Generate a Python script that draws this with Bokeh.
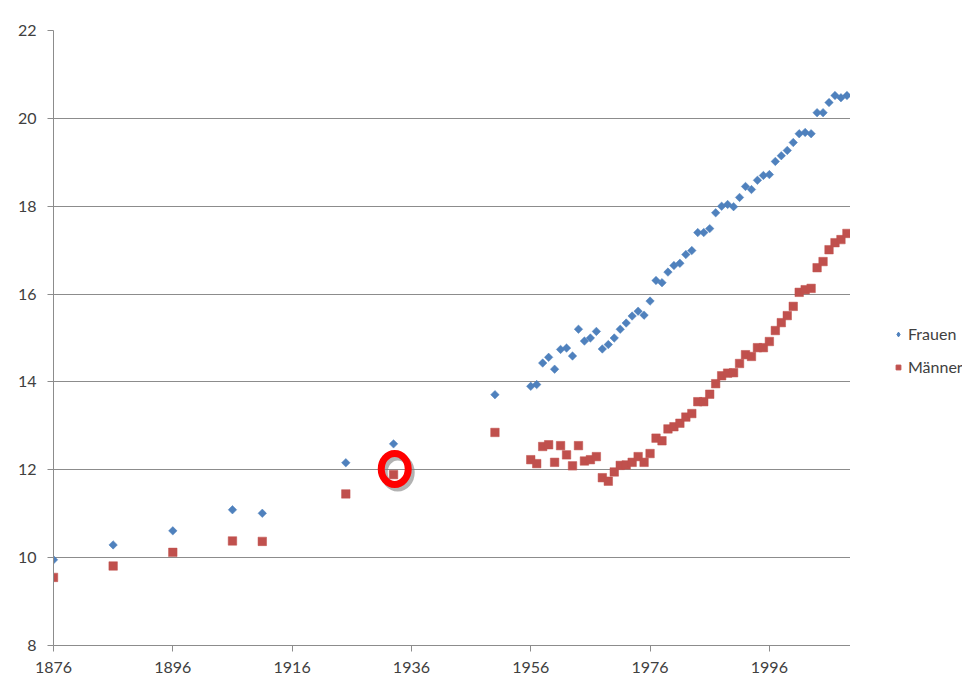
from bokeh.plotting import figure
from bokeh.layouts import row
from bokeh.models import Range1d, FixedTicker, Legend, LegendItem
from bokeh.embed import file_html
from bokeh.resources import INLINE

# ---- data ----
years = [1876, 1886, 1896, 1906, 1911, 1925, 1933, 1950] + list(range(1956, 2010))

frauen = [9.95, 10.29, 10.61, 11.09, 11.01, 12.16, 12.59, 13.71,
          13.90, 13.94, 14.43, 14.56, 14.29, 14.74, 14.77, 14.59, 15.20, 14.93,
          15.00, 15.15, 14.75, 14.85, 15.00, 15.20, 15.34, 15.50, 15.61, 15.52,
          15.84, 16.31, 16.26, 16.50, 16.65, 16.70, 16.90, 16.99, 17.40, 17.40,
          17.49, 17.85, 18.00, 18.04, 17.99, 18.20, 18.45, 18.38, 18.59, 18.70,
          18.72, 19.02, 19.15, 19.27, 19.45, 19.65, 19.68, 19.65, 20.13, 20.13,
          20.36, 20.52, 20.47, 20.52]

maenner = [9.55, 9.81, 10.12, 10.38, 10.37, 11.45, 11.89, 12.85,
           12.23, 12.14, 12.53, 12.57, 12.17, 12.55, 12.34, 12.09, 12.55, 12.20,
           12.23, 12.30, 11.82, 11.74, 11.95, 12.10, 12.11, 12.17, 12.30, 12.17,
           12.37, 12.72, 12.66, 12.93, 12.98, 13.06, 13.20, 13.28, 13.55, 13.55,
           13.72, 13.96, 14.14, 14.20, 14.21, 14.42, 14.62, 14.58, 14.78, 14.78,
           14.92, 15.17, 15.35, 15.51, 15.72, 16.04, 16.10, 16.13, 16.60, 16.74,
           17.01, 17.17, 17.24, 17.38]

x_ticks = [1876, 1896, 1916, 1936, 1956, 1976, 1996]
y_ticks = [8, 10, 12, 14, 16, 18, 20, 22]
series_names = ["Frauen", "Männer"]

# highlighted point (red ring annotation)
mark_x = [1933.2]
mark_y = [12.02]

BLUE = "#4F81BD"
RED = "#C0504D"
GRID = "#8c8c8c"
TEXT = "#404040"
FONT = "Lato"
H = 678

p = figure(width=850, height=H, output_backend="svg", toolbar_location=None,
           x_range=Range1d(1876, 2009.6), y_range=Range1d(8, 22),
           min_border_left=53, min_border_right=0, min_border_top=30,
           min_border_bottom=H - 30 - 615, outline_line_color=None)

p.xgrid.grid_line_color = None
p.ygrid.grid_line_color = GRID
p.ygrid.grid_line_width = 1
p.ygrid.ticker = FixedTicker(ticks=y_ticks)

for ax in (p.xaxis[0], p.yaxis[0]):
    ax.axis_line_color = GRID
    ax.major_tick_line_color = GRID
    ax.minor_tick_line_color = None
    ax.major_tick_in = 0
    ax.major_tick_out = 6
    ax.major_label_text_font = FONT
    ax.major_label_text_font_size = "16px"
    ax.major_label_text_color = TEXT
p.xaxis.ticker = FixedTicker(ticks=x_ticks)
p.yaxis.ticker = FixedTicker(ticks=y_ticks)
p.xaxis.major_label_standoff = 10
p.yaxis.major_label_standoff = 11

p.scatter(years, frauen, marker="square", angle=0.785398, size=6,
          fill_color=BLUE, line_color=BLUE, line_width=0.5)
p.scatter(years, maenner, marker="square", size=8.5, fill_color=RED,
          line_color=RED, line_width=0.5)

# red ring with soft gray shadow
p.ellipse(x=[mark_x[0] + 0.5], y=[mark_y[0] - 0.08], width=27, height=31,
          width_units="screen", height_units="screen", fill_color=None,
          line_color="#7f7f7f", line_alpha=0.6, line_width=7)
p.ellipse(x=mark_x, y=mark_y, width=27, height=31,
          width_units="screen", height_units="screen", fill_color=None,
          line_color="#ff0000", line_width=7)

# legend panel to the right of the plot area (proxy glyphs lie outside its range)
q = figure(width=112, height=H, output_backend="svg", toolbar_location=None,
           x_axis_type=None, y_axis_type=None, min_border=0,
           outline_line_color=None, x_range=Range1d(0, 1), y_range=Range1d(0, 1))
q.grid.visible = False
l1 = q.scatter(years[:1], frauen[:1], marker="diamond", size=9,
               fill_color=BLUE, line_color=BLUE)
l2 = q.scatter(years[:1], maenner[:1], marker="square", size=8.5,
               fill_color=RED, line_color=RED)

legend = Legend(items=[LegendItem(label=series_names[0], renderers=[l1]),
                       LegendItem(label=series_names[1], renderers=[l2])],
                location=(42, H - 409), orientation="vertical",
                background_fill_alpha=0, border_line_color=None,
                label_text_font=FONT, label_text_font_size="16px",
                label_text_color=TEXT, glyph_width=12, glyph_height=18,
                label_height=18, spacing=14, padding=0, margin=0,
                label_standoff=4)
q.add_layout(legend, "center")

layout = row(p, q, spacing=0)
open("out.html", "w").write(file_html(layout, INLINE))
